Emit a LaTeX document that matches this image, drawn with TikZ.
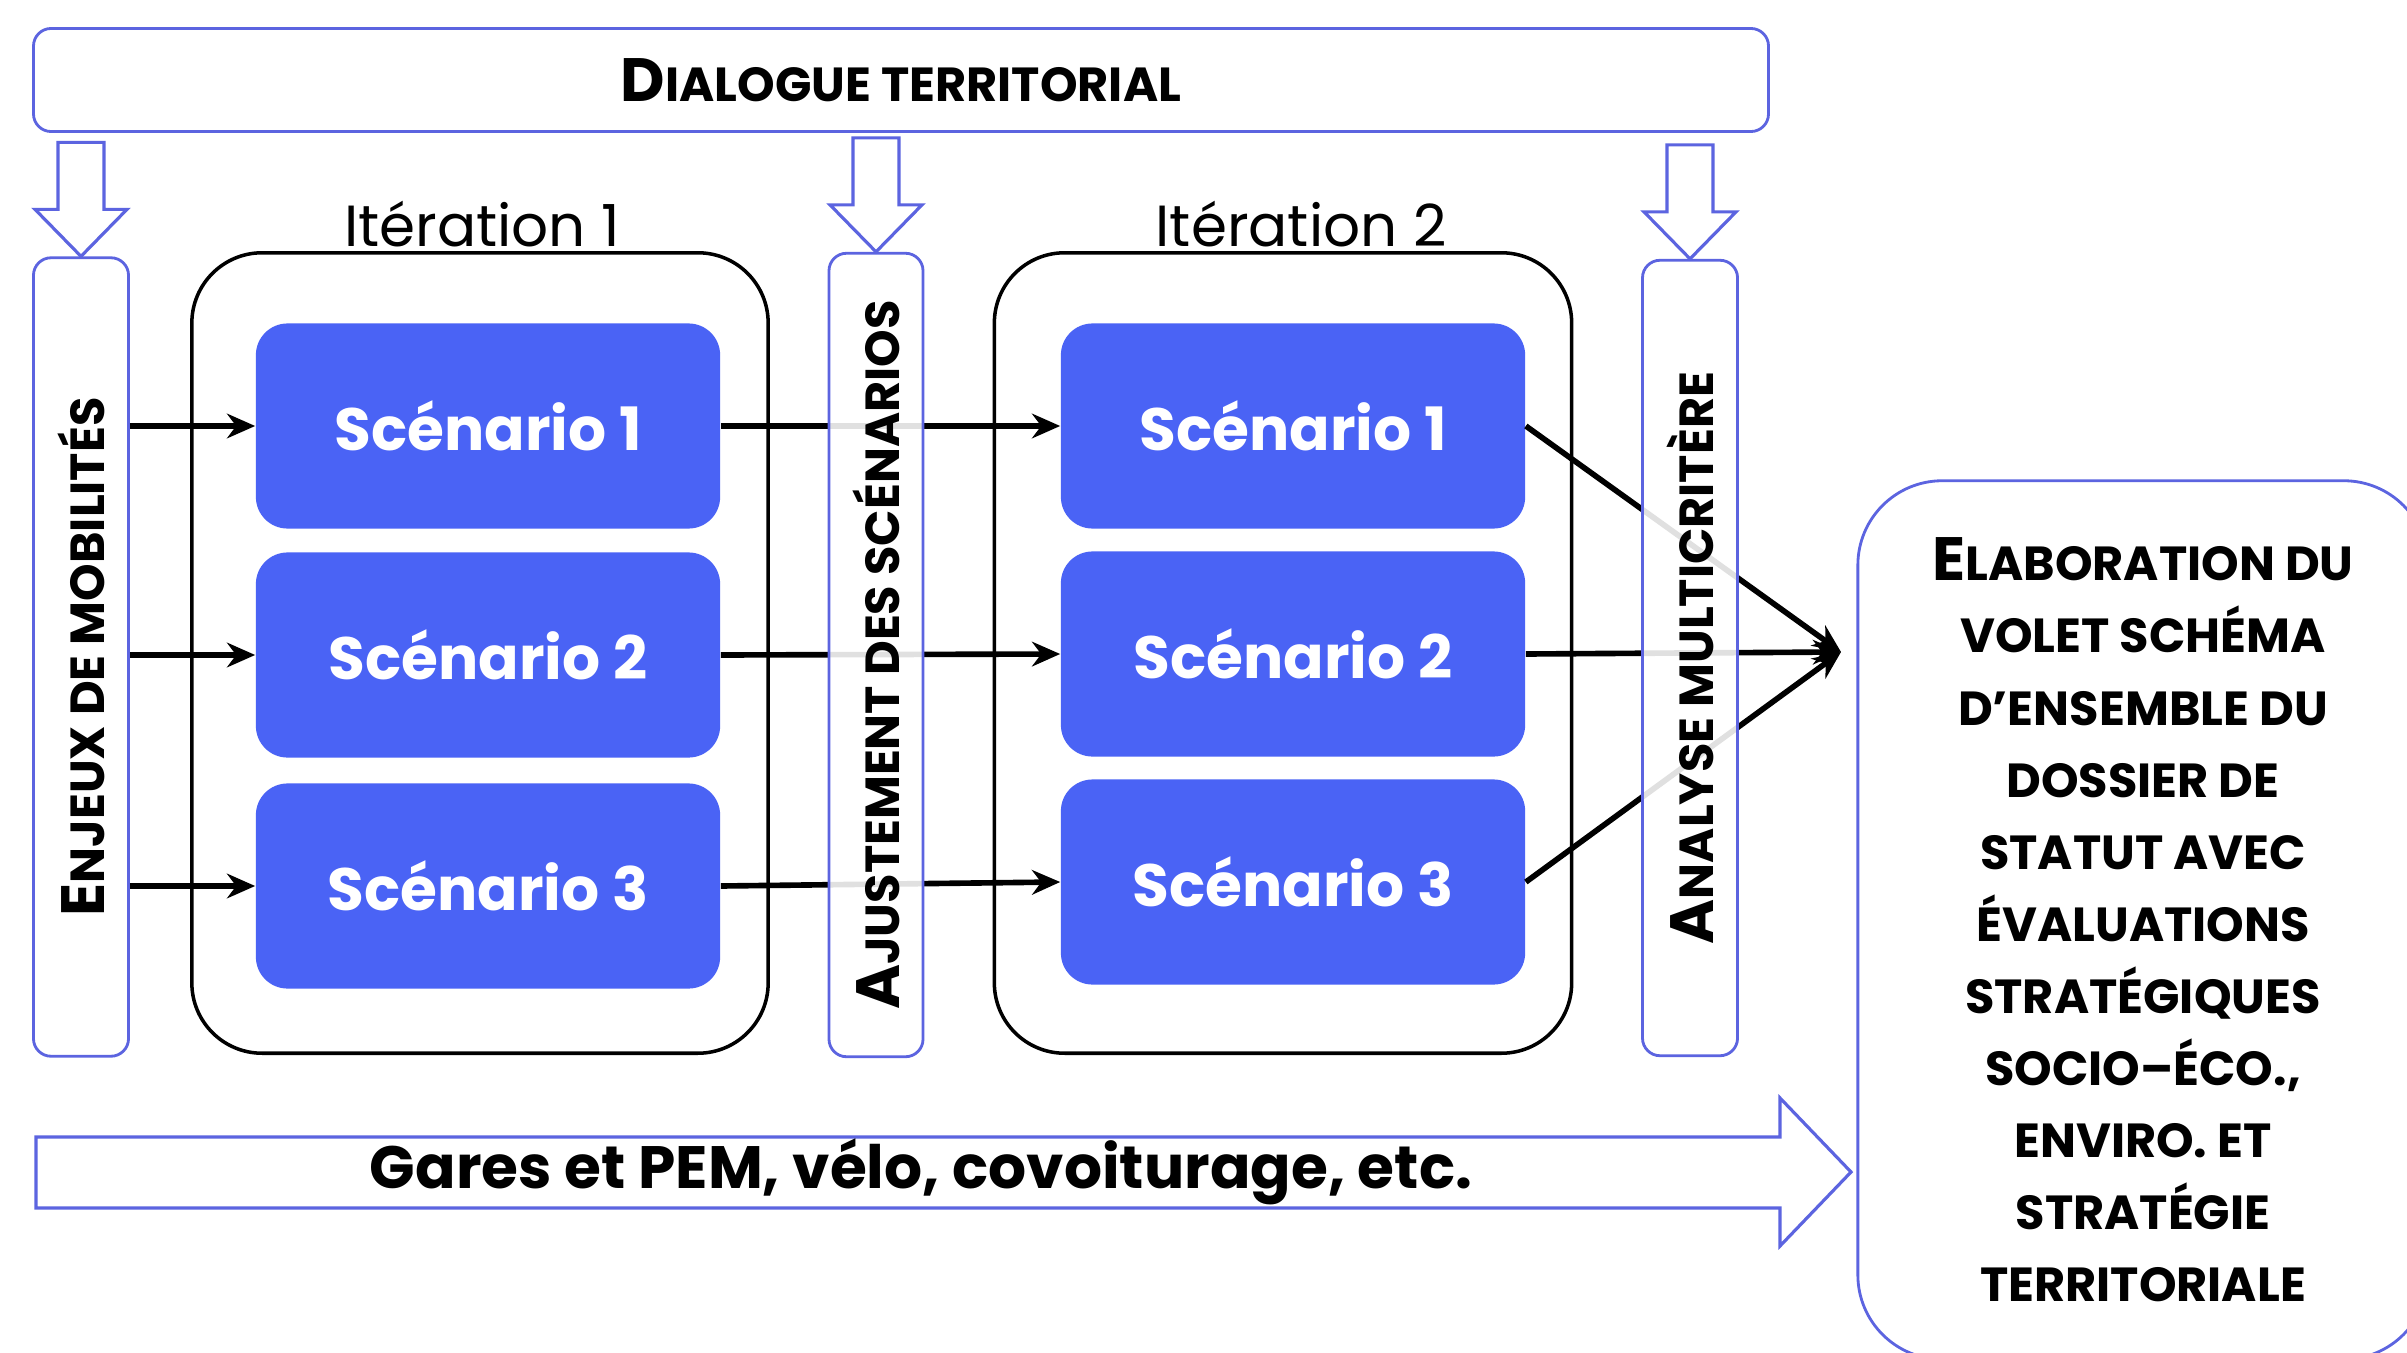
\documentclass[tikz,border=0pt]{standalone}
\usepackage{fontspec}
\setmainfont{Poppins}
\usetikzlibrary{arrows.meta,positioning}

\definecolor{scenblue}{HTML}{4A63F5}
\definecolor{lineblue}{HTML}{5C64E0}

\newcommand{\initcap}[1]{{\fontsize{17.4}{20}\selectfont #1}}
\newcommand{\downblock}[1]{\draw[block] #1 -- ++(-46,-47) -- ++(23,0) -- ++(0,-67) -- ++(46,0) -- ++(0,67) -- ++(23,0) -- cycle;}

\begin{document}
\begin{tikzpicture}[x=0.01cm,y=-0.01cm,
  frame box/.style={rectangle,rounded corners=5pt,draw=lineblue,line width=0.8pt,
  fill=white,fill opacity=0.88},
  iter box/.style={rectangle,rounded corners=20pt,draw=black,line width=1pt},
  scen node/.style={rectangle,rounded corners=9pt,fill=scenblue,text=white,
  font=\fontsize{17}{20}\selectfont\bfseries,minimum width=4.64cm,minimum height=2.05cm},
  caps label/.style={font=\fontsize{13.6}{20.5}\selectfont\bfseries,align=center},
  flow/.style={-{Stealth[length=8pt,width=7pt]},line width=1.6pt},
  block/.style={draw=lineblue,line width=0.9pt,fill=white}]

  \fill[white] (0,0) rectangle (2407,1352);
  \clip (0,0) rectangle (2407,1352);

  %Top bar%
  \node[frame box,fill opacity=1,minimum width=17.34cm,minimum height=1.03cm] (dialog) at (901,80) {};
  \node[caps label] (dialogtxt) at (dialog) {\initcap{D}IALOGUE TERRITORIAL};

  %Scenarios of both iterations%
  \node[scen node] (s11) at (488,426) {Scénario 1};
  \node[scen node] (s12) at (488,655) {Scénario 2};
  \node[scen node] (s13) at (488,886) {Scénario 3};
  \node[scen node] (s21) at (1293,426) {Scénario 1};
  \node[scen node] (s22) at (1293,654) {Scénario 2};
  \node[scen node] (s23) at (1293,882) {Scénario 3};

  \node[iter box,minimum width=5.76cm,minimum height=8cm] (it1) at (480,653) {};
  \node[iter box,minimum width=5.77cm,minimum height=8cm] (it2) at (1283,653) {};
  \node[font=\fontsize{16.5}{20}\selectfont,anchor=base] (it1lbl) at (482,247) {Itération 1};
  \node[font=\fontsize{16.5}{20}\selectfont,anchor=base] (it2lbl) at (1301,247) {Itération 2};

  \node[frame box,fill opacity=1,minimum width=0.95cm,minimum height=7.98cm] (enjeux) at (81,657) {};
  \node[caps label,rotate=90] (enjeuxtxt) at (enjeux) {\initcap{E}NJEUX DE MOBILITÉS};

  \coordinate (merge) at (1841,652);

  \path[flow]
    %Enjeux to iteration 1%
    (enjeux.east |- s11) edge (s11.west)
    (enjeux.east |- s12) edge (s12.west)
    (enjeux.east |- s13) edge (s13.west)
    %Iteration 1 to iteration 2%
    (s11.east) edge (s21.west)
    (s12.east) edge (s22.west)
    (s13.east) edge (s23.west)
    %Iteration 2 to the final step%
    (s21.east) edge (merge)
    (s22.east) edge (merge)
    (s23.east) edge (merge);

  \node[frame box,minimum width=0.94cm,minimum height=8.03cm] (ajust) at (876,655) {};
  \node[caps label,rotate=90] (ajusttxt) at (ajust) {\initcap{A}JUSTEMENT DES SCÉNARIOS};
  \node[frame box,minimum width=0.95cm,minimum height=7.95cm] (analyse) at (1690,658) {};
  \node[caps label,rotate=90] (analysetxt) at (analyse) {\initcap{A}NALYSE MULTICRITÈRE};

  %Arrows from the dialogue%
  \downblock{(enjeux.north)}
  \downblock{(ajust.north)}
  \downblock{(analyse.north)}

  %Final box%
  \node[frame box,fill opacity=1,rounded corners=24pt,minimum width=5.7cm,minimum height=8.78cm,
  caps label] (elab) at (2143,920) {\initcap{E}LABORATION DU\\VOLET SCHÉMA\\D’ENSEMBLE DU\\DOSSIER DE\\
  STATUT AVEC\\ÉVALUATIONS\\STRATÉGIQUES\\SOCIO–ÉCO.,\\ENVIRO. ET\\STRATÉGIE\\TERRITORIALE};

  %Bottom arrow%
  \coordinate (garestip) at (1851,1172);
  \draw[block] (36,1137) -- (1780,1137) -- (1780,1098) -- (garestip) -- (1780,1246)
    -- (1780,1208) -- (36,1208) -- cycle;
  \node[font=\fontsize{17}{20}\selectfont\bfseries] (gares) at (921,1172) {Gares et PEM, vélo, covoiturage, etc.};

\end{tikzpicture}
\end{document}
